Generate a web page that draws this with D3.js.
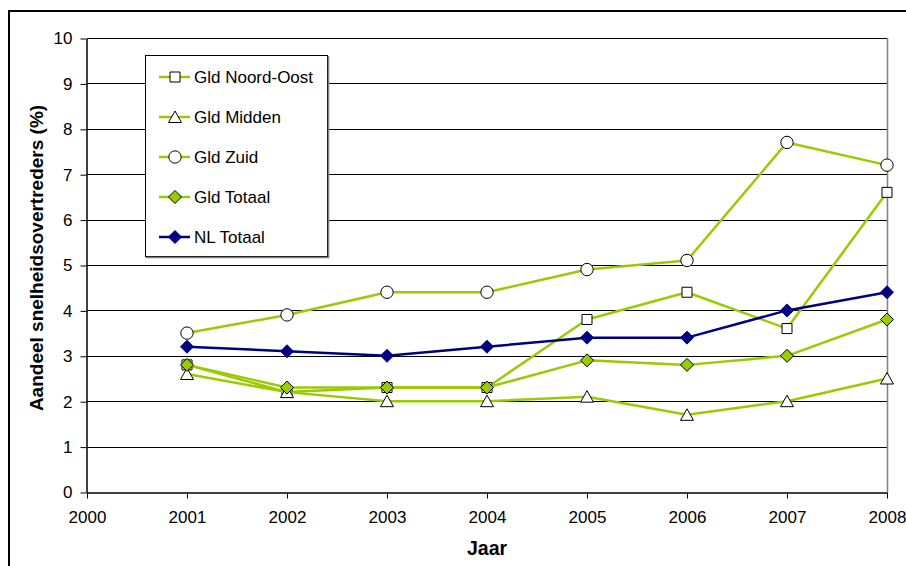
<!DOCTYPE html>
<html>
<head>
<meta charset="utf-8">
<script src="https://cdn.jsdelivr.net/npm/d3@7"></script>
<style>
  html, body { margin: 0; padding: 0; background: #fff; }
  svg { display: block; font-family: "Liberation Sans", Arial, sans-serif; }
</style>
</head>
<body>
<svg id="chart" width="906" height="566"></svg>
<script>
// Share of speeding offenders per region, 2001-2008
const years = [2001, 2002, 2003, 2004, 2005, 2006, 2007, 2008];
const seriesNames = ["Gld Noord-Oost", "Gld Midden", "Gld Zuid", "Gld Totaal", "NL Totaal"];
const gldNoordOost = [2.8, 2.2, 2.3, 2.3, 3.8, 4.4, 3.6, 6.6];
const gldMidden    = [2.6, 2.2, 2.0, 2.0, 2.1, 1.7, 2.0, 2.5];
const gldZuid      = [3.5, 3.9, 4.4, 4.4, 4.9, 5.1, 7.7, 7.2];
const gldTotaal    = [2.8, 2.3, 2.3, 2.3, 2.9, 2.8, 3.0, 3.8];
const nlTotaal     = [3.2, 3.1, 3.0, 3.2, 3.4, 3.4, 4.0, 4.4];
const xTicks = [2000, 2001, 2002, 2003, 2004, 2005, 2006, 2007, 2008];
const yTicks = [0, 1, 2, 3, 4, 5, 6, 7, 8, 9, 10];

const GREEN = "#99cc00";
const NAVY = "#000080";

const series = [
  { name: seriesNames[0], values: gldNoordOost, color: GREEN, marker: "square",   fill: "#fff", stroke: "#000" },
  { name: seriesNames[1], values: gldMidden,    color: GREEN, marker: "triangle", fill: "#fff", stroke: "#000" },
  { name: seriesNames[2], values: gldZuid,      color: GREEN, marker: "circle",   fill: "#fff", stroke: "#000" },
  { name: seriesNames[3], values: gldTotaal,    color: GREEN, marker: "diamond",  fill: GREEN,  stroke: "#000" },
  { name: seriesNames[4], values: nlTotaal,     color: NAVY,  marker: "diamond",  fill: NAVY,   stroke: NAVY }
];

const svg = d3.select("#chart");
const plot = { left: 87, right: 887, top: 38, bottom: 492 };

const x = d3.scaleLinear().domain([2000, 2008]).range([plot.left, plot.right]);
const y = d3.scaleLinear().domain([0, 10]).range([plot.bottom, plot.top]);

// Outer chart frame (only top and left edges fall inside the view)
svg.append("path")
  .attr("d", "M9,566 V11 H906")
  .attr("fill", "none").attr("stroke", "#000").attr("stroke-width", 2);

// Horizontal gridlines
svg.append("g").selectAll("line").data(yTicks.filter(d => d > 0)).join("line")
  .attr("x1", plot.left).attr("x2", plot.right)
  .attr("y1", d => Math.round(y(d)) + 0.5).attr("y2", d => Math.round(y(d)) + 0.5)
  .attr("stroke", "#000").attr("stroke-width", 1);

// Plot area right edge
svg.append("line")
  .attr("x1", plot.right + 0.5).attr("x2", plot.right + 0.5)
  .attr("y1", plot.top).attr("y2", plot.bottom)
  .attr("stroke", "#808080").attr("stroke-width", 1.5);

const tickFont = 17;

// Y axis
const yAxis = svg.append("g")
  .attr("transform", `translate(${plot.left - 0.5},0.5)`)
  .call(d3.axisLeft(y).tickValues(yTicks).tickSize(6).tickSizeOuter(0).tickPadding(8).tickFormat(d3.format("d")));
yAxis.select(".domain").attr("stroke", "#000").attr("stroke-width", 1.5);
yAxis.selectAll(".tick line").attr("stroke", "#000");
yAxis.selectAll(".tick text")
  .attr("font-size", tickFont).attr("fill", "#000")
  .attr("font-family", "Liberation Sans, Arial, sans-serif");

// X axis
const xAxis = svg.append("g")
  .attr("transform", `translate(0,${plot.bottom + 0.5})`)
  .call(d3.axisBottom(x).tickValues(xTicks).tickSize(6).tickSizeOuter(0).tickFormat(d3.format("d")));
xAxis.select(".domain").attr("stroke", "#000").attr("stroke-width", 1.5);
xAxis.selectAll(".tick line").attr("stroke", "#000");
xAxis.selectAll(".tick text")
  .attr("y", 30).attr("dy", null)
  .attr("font-size", tickFont).attr("fill", "#000")
  .attr("font-family", "Liberation Sans, Arial, sans-serif");

// Axis titles
svg.append("text")
  .attr("transform", `translate(43,${258}) rotate(-90)`)
  .attr("text-anchor", "middle")
  .attr("font-size", 19).attr("font-weight", "bold")
  .text("Aandeel snelheidsovertreders (%)");

svg.append("text")
  .attr("x", 487).attr("y", 555)
  .attr("text-anchor", "middle")
  .attr("font-size", 19.5).attr("font-weight", "bold")
  .text("Jaar");

// Marker shapes
const markerPath = {
  square:   "M-5,-5H5V5H-5Z",
  triangle: "M0,-6L6.5,5.5H-6.5Z",
  circle:   d3.symbol(d3.symbolCircle, 120)(),
  diamond:  "M0,-6.5L6.5,0L0,6.5L-6.5,0Z"
};

function drawMarker(g, s, cx, cy) {
  g.append("path")
    .attr("d", markerPath[s.marker])
    .attr("transform", `translate(${cx},${cy})`)
    .attr("fill", s.fill).attr("stroke", s.stroke).attr("stroke-width", 1);
}

const line = d3.line().x(d => x(d[0])).y(d => y(d[1]));

// Series lines and markers
series.forEach(s => {
  const pts = years.map((yr, i) => [yr, s.values[i]]);
  const g = svg.append("g");
  g.append("path")
    .attr("d", line(pts))
    .attr("fill", "none").attr("stroke", s.color).attr("stroke-width", 2.5)
    .attr("stroke-linejoin", "round");
  pts.forEach(p => drawMarker(g, s, x(p[0]), y(p[1])));
});

// Legend
const legend = svg.append("g");
legend.append("rect")
  .attr("x", 145.5).attr("y", 55.5).attr("width", 182).attr("height", 201)
  .attr("fill", "#fff").attr("stroke", "#000").attr("stroke-width", 1);
legend.append("path")
  .attr("d", "M328.5,56 V257.5 H146")
  .attr("fill", "none").attr("stroke", "#808080").attr("stroke-width", 1.5);

const legendY = [77, 117, 157, 197, 237];
series.forEach((s, i) => {
  const ly = legendY[i];
  legend.append("line")
    .attr("x1", 159).attr("x2", 190).attr("y1", ly).attr("y2", ly)
    .attr("stroke", s.color).attr("stroke-width", 2.5);
  drawMarker(legend, s, 175, ly);
  legend.append("text")
    .attr("x", 194).attr("y", ly).attr("dy", "0.35em")
    .attr("font-size", 17)
    .text(s.name);
});
</script>
</body>
</html>
